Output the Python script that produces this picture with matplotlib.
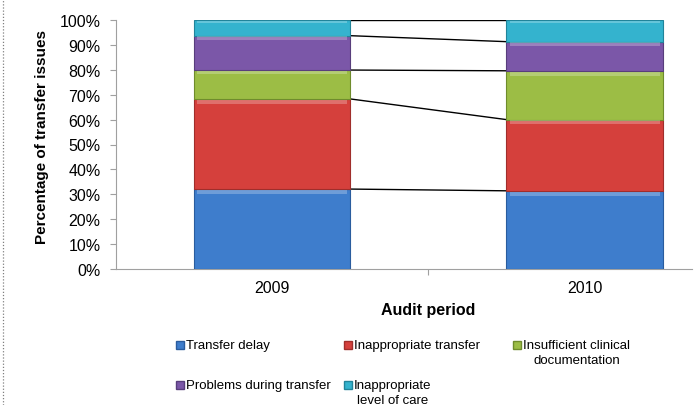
import numpy as np
import matplotlib
matplotlib.use("Agg")
import matplotlib.pyplot as plt
from matplotlib.lines import Line2D

plt.rcParams['font.family'] = ['Liberation Sans', 'DejaVu Sans']

# data (share of transfer issues, %)
periods = ["2009", "2010"]
categories = ["Transfer delay", "Inappropriate transfer", "Insufficient clinical\ndocumentation",
              "Problems during transfer", "Inappropriate\nlevel of care"]
transfer_delay = [32.1, 31.4]
inappropriate_transfer = [36.2, 28.6]
insufficient_docs = [11.6, 19.6]
problems_during = [13.8, 11.7]
inappropriate_level = [6.3, 8.7]
yticks = [0, 10, 20, 30, 40, 50, 60, 70, 80, 90, 100]

series = [transfer_delay, inappropriate_transfer, insufficient_docs, problems_during, inappropriate_level]
colors = ['#3E7DCC', '#D5403C', '#9CBD45', '#7B57A8', '#34B3CE']
edges = ['#2A5C9E', '#A02E2B', '#6F8C2C', '#583E7C', '#21849A']

fig = plt.figure(figsize=(6.97, 4.06), dpi=100)
ax = fig.add_axes([116/697, 1-270/406, 576/697, 249/406])

x = np.arange(len(periods))
width = 0.5
bottom = np.zeros(len(periods))
tops = []
for vals, c, ec in zip(series, colors, edges):
    vals = np.array(vals)
    ax.bar(x, vals, width, bottom=bottom, color=c, edgecolor=ec, linewidth=0.8, zorder=3)
    # light bevel band at top of each segment
    band = np.minimum(vals*0.12, 1.6)
    ax.bar(x, band, width*0.96, bottom=bottom+vals-band-0.3,
           color='white', alpha=0.25, linewidth=0, zorder=4)
    bottom = bottom + vals
    tops.append(bottom.copy())

# series lines between bars
for t in tops:
    ax.plot([x[0]+width/2, x[1]-width/2], [t[0], t[1]], color='black', lw=1.0, zorder=2)

ax.set_xlim(-0.5, 1.344)
ax.set_ylim(0, 100)
ax.set_yticks(yticks)
ax.set_yticklabels([f"{v}%" for v in yticks], fontsize=11.5)
ax.set_xticks([0.5])
ax.set_xticklabels([])
ax.tick_params(axis='x', length=4, color='#A0A0A0', direction='out')
ax.tick_params(axis='y', length=4, color='#A0A0A0', direction='out', pad=7)
for s in ['top', 'right']:
    ax.spines[s].set_visible(False)
for s in ['left', 'bottom']:
    ax.spines[s].set_color('#A0A0A0')
for xi, p in zip(x, periods):
    ax.text(xi, -4.5, p, ha='center', va='top', fontsize=11.5)

fig.text(42/697, 1-137/406, "Percentage of transfer issues", rotation=90, ha='center', va='center',
         fontsize=11, fontweight='bold')
fig.text(428/697, 1-311/406, "Audit period", ha='center', va='center', fontsize=11.5, fontweight='bold')

# legend laid out like the original: 3 columns, rows top-aligned
col_x = [180, 348, 517]
row_y = [346, 386]
for i, (lab, c, ec) in enumerate(zip(categories, colors, edges)):
    cx = col_x[i % 3] / 697
    cy = 1 - row_y[i // 3] / 406
    fig.add_artist(Line2D([cx], [cy], marker='s', color='none', markerfacecolor=c,
                          markeredgecolor=ec, markersize=5.5, transform=fig.transFigure))
    fig.text(cx + 6/697, cy + 6/406, lab, ha='left', va='top', fontsize=9.5,
             multialignment='center', linespacing=1.35)

# dotted left border
fig.add_artist(Line2D([2.5/697, 2.5/697], [0, 1], transform=fig.transFigure,
                      color='#808080', lw=0.9, ls=(0, (1, 1.5))))

fig.savefig("out.png", dpi=100)
